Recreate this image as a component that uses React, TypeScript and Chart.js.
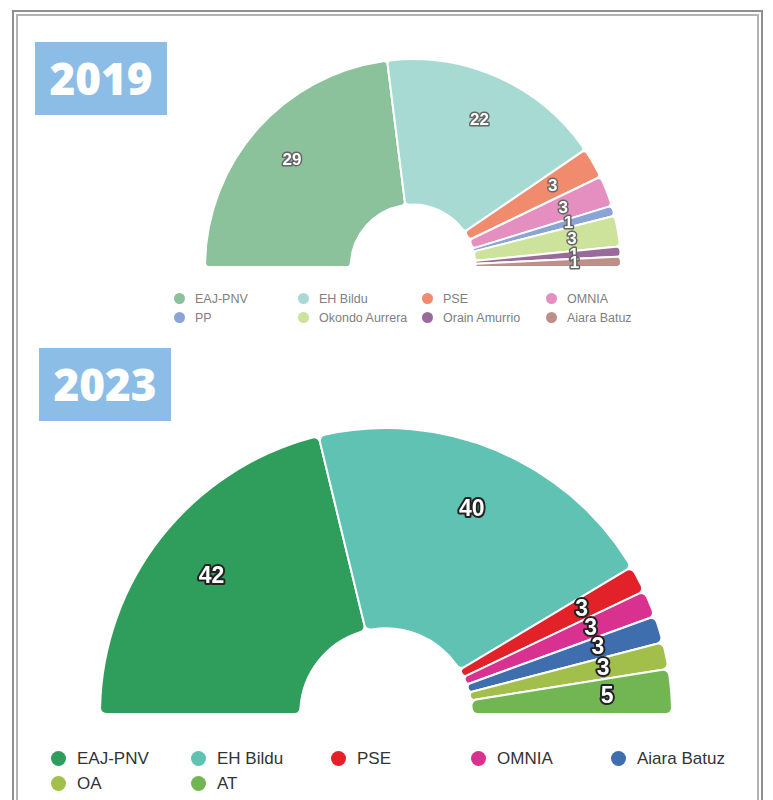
import React, { useEffect, useRef } from "react";
import { Chart, registerables } from "chart.js";

Chart.register(...registerables);

// ---- Data ----
const labels2019 = ["EAJ-PNV", "EH Bildu", "PSE", "OMNIA", "PP", "Okondo Aurrera", "Orain Amurrio", "Aiara Batuz"];
const seats2019 = [29, 22, 3, 3, 1, 3, 1, 1];
const colors2019 = ["#8BC29B", "#A7DAD3", "#F08B6E", "#E58FC1", "#8AA4D5", "#CDE29B", "#9A6B9A", "#BE8F89"];

const labels2023 = ["EAJ-PNV", "EH Bildu", "PSE", "OMNIA", "Aiara Batuz", "OA", "AT"];
const seats2023 = [42, 40, 3, 3, 3, 3, 5];
const colors2023 = ["#2F9E5C", "#5FC2B2", "#E32129", "#D8318F", "#3E6EAE", "#A3BF4B", "#72B654"];

const title2019 = "2019";
const title2023 = "2023";

const valueLabelPlugin = {
  id: "valueLabels",
  afterDatasetsDraw(chart: any, _args: any, opts: any) {
    const ctx = chart.ctx;
    const meta = chart.getDatasetMeta(0);
    const data = chart.data.datasets[0].data;
    ctx.save();
    ctx.font = opts.font;
    ctx.textAlign = "center";
    ctx.textBaseline = "middle";
    ctx.lineJoin = "round";
    meta.data.forEach((arc: any, i: number) => {
      const p = arc.getProps(["x", "y", "startAngle", "endAngle", "innerRadius", "outerRadius"], true);
      const a = (p.startAngle + p.endAngle) / 2;
      const r = p.innerRadius + opts.fraction * (p.outerRadius - p.innerRadius);
      const x = p.x + Math.cos(a) * r;
      const y = p.y + Math.sin(a) * r;
      const t = String(data[i]);
      ctx.lineWidth = opts.strokeWidth;
      ctx.strokeStyle = opts.stroke;
      ctx.strokeText(t, x, y);
      ctx.fillStyle = "#ffffff";
      ctx.fillText(t, x, y);
    });
    ctx.restore();
  },
};

type HalfProps = {
  labels: string[];
  values: number[];
  colors: string[];
  left: number;
  top: number;
  width: number;
  height: number;
  radius: number;
  font: string;
  stroke: string;
  strokeWidth: number;
  borderRadius: number;
};

function HalfDoughnut(props: HalfProps) {
  const ref = useRef<HTMLCanvasElement | null>(null);
  useEffect(() => {
    if (!ref.current) return;
    const chart = new Chart(ref.current, {
      type: "doughnut",
      data: {
        labels: props.labels,
        datasets: [
          {
            data: props.values,
            backgroundColor: props.colors,
            borderColor: "#ffffff",
            borderWidth: 2,
            borderRadius: props.borderRadius,
            hoverOffset: 0,
          },
        ],
      },
      options: {
        responsive: false,
        animation: false,
        rotation: -90,
        circumference: 180,
        cutout: "30%",
        radius: props.radius,
        layout: { padding: 0 },
        plugins: {
          legend: { display: false },
          tooltip: { enabled: false },
          valueLabels: {
            font: props.font,
            stroke: props.stroke,
            strokeWidth: props.strokeWidth,
            fraction: 0.68,
          },
        } as any,
      } as any,
      plugins: [valueLabelPlugin],
    });
    return () => chart.destroy();
  }, []);
  return (
    <canvas
      ref={ref}
      width={props.width}
      height={props.height}
      style={{ position: "absolute", left: props.left, top: props.top, width: props.width, height: props.height }}
    />
  );
}

type LegendProps = {
  labels: string[];
  colors: string[];
  left: number;
  top: number;
  colWidth: number;
  cols: number;
  rowHeight: number;
  fontSize: number;
  dot: number;
  gap: number;
  color: string;
};

function HtmlLegend(p: LegendProps) {
  return (
    <div
      style={{
        position: "absolute",
        left: p.left,
        top: p.top,
        display: "grid",
        gridTemplateColumns: `repeat(${p.cols}, ${p.colWidth}px)`,
        gridAutoRows: `${p.rowHeight}px`,
        fontFamily: '"Liberation Sans", Arial, sans-serif',
        fontSize: p.fontSize,
        color: p.color,
      }}
    >
      {p.labels.map((l, i) => (
        <div key={i} style={{ display: "flex", alignItems: "center", whiteSpace: "nowrap" }}>
          <span
            style={{
              display: "inline-block",
              width: p.dot,
              height: p.dot,
              borderRadius: "50%",
              background: p.colors[i],
              marginRight: p.gap,
              flex: "none",
            }}
          />
          <span>{l}</span>
        </div>
      ))}
    </div>
  );
}

function Badge({ text, left, top }: { text: string; left: number; top: number }) {
  return (
    <div
      style={{
        position: "absolute",
        left,
        top,
        width: 132,
        height: 73,
        background: "#8BBDE6",
        color: "#ffffff",
        fontFamily: '"Open Sans", "DejaVu Sans", sans-serif',
        fontWeight: 800,
        fontSize: 44,
        lineHeight: "73px",
        textAlign: "center",
      }}
    >
      {text}
    </div>
  );
}

export default function App() {
  return (
    <div style={{ position: "fixed", left: 0, top: 0, width: 773, height: 800, background: "#fff", overflow: "hidden" }}>
      <div style={{ position: "absolute", left: 12, top: 10, width: 747, height: 900, border: "2px solid #8f8f8f" }} />
      <div style={{ position: "absolute", left: 16, top: 14, width: 739, height: 900, border: "2px solid #b3b3b3" }} />

      <Badge text={title2019} left={35} top={42} />
      <HalfDoughnut
        labels={labels2019}
        values={seats2019}
        colors={colors2019}
        left={193}
        top={53}
        width={440}
        height={220}
        radius={208}
        font={'bold 17px "Liberation Sans", Arial, sans-serif'}
        stroke="#666666"
        strokeWidth={3}
        borderRadius={4}
      />
      <HtmlLegend
        labels={labels2019}
        colors={colors2019}
        left={174}
        top={289}
        colWidth={124}
        cols={4}
        rowHeight={19}
        fontSize={12.5}
        dot={11}
        gap={10}
        color="#808080"
      />

      <Badge text={title2023} left={39} top={348} />
      <HalfDoughnut
        labels={labels2023}
        values={seats2023}
        colors={colors2023}
        left={86}
        top={421}
        width={600}
        height={300}
        radius={286}
        font={'bold 23px "Liberation Sans", Arial, sans-serif'}
        stroke="#222222"
        strokeWidth={4}
        borderRadius={6}
      />
      <HtmlLegend
        labels={labels2023}
        colors={colors2023}
        left={51}
        top={746}
        colWidth={140}
        cols={5}
        rowHeight={25}
        fontSize={17}
        dot={15}
        gap={11}
        color="#333333"
      />
    </div>
  );
}
